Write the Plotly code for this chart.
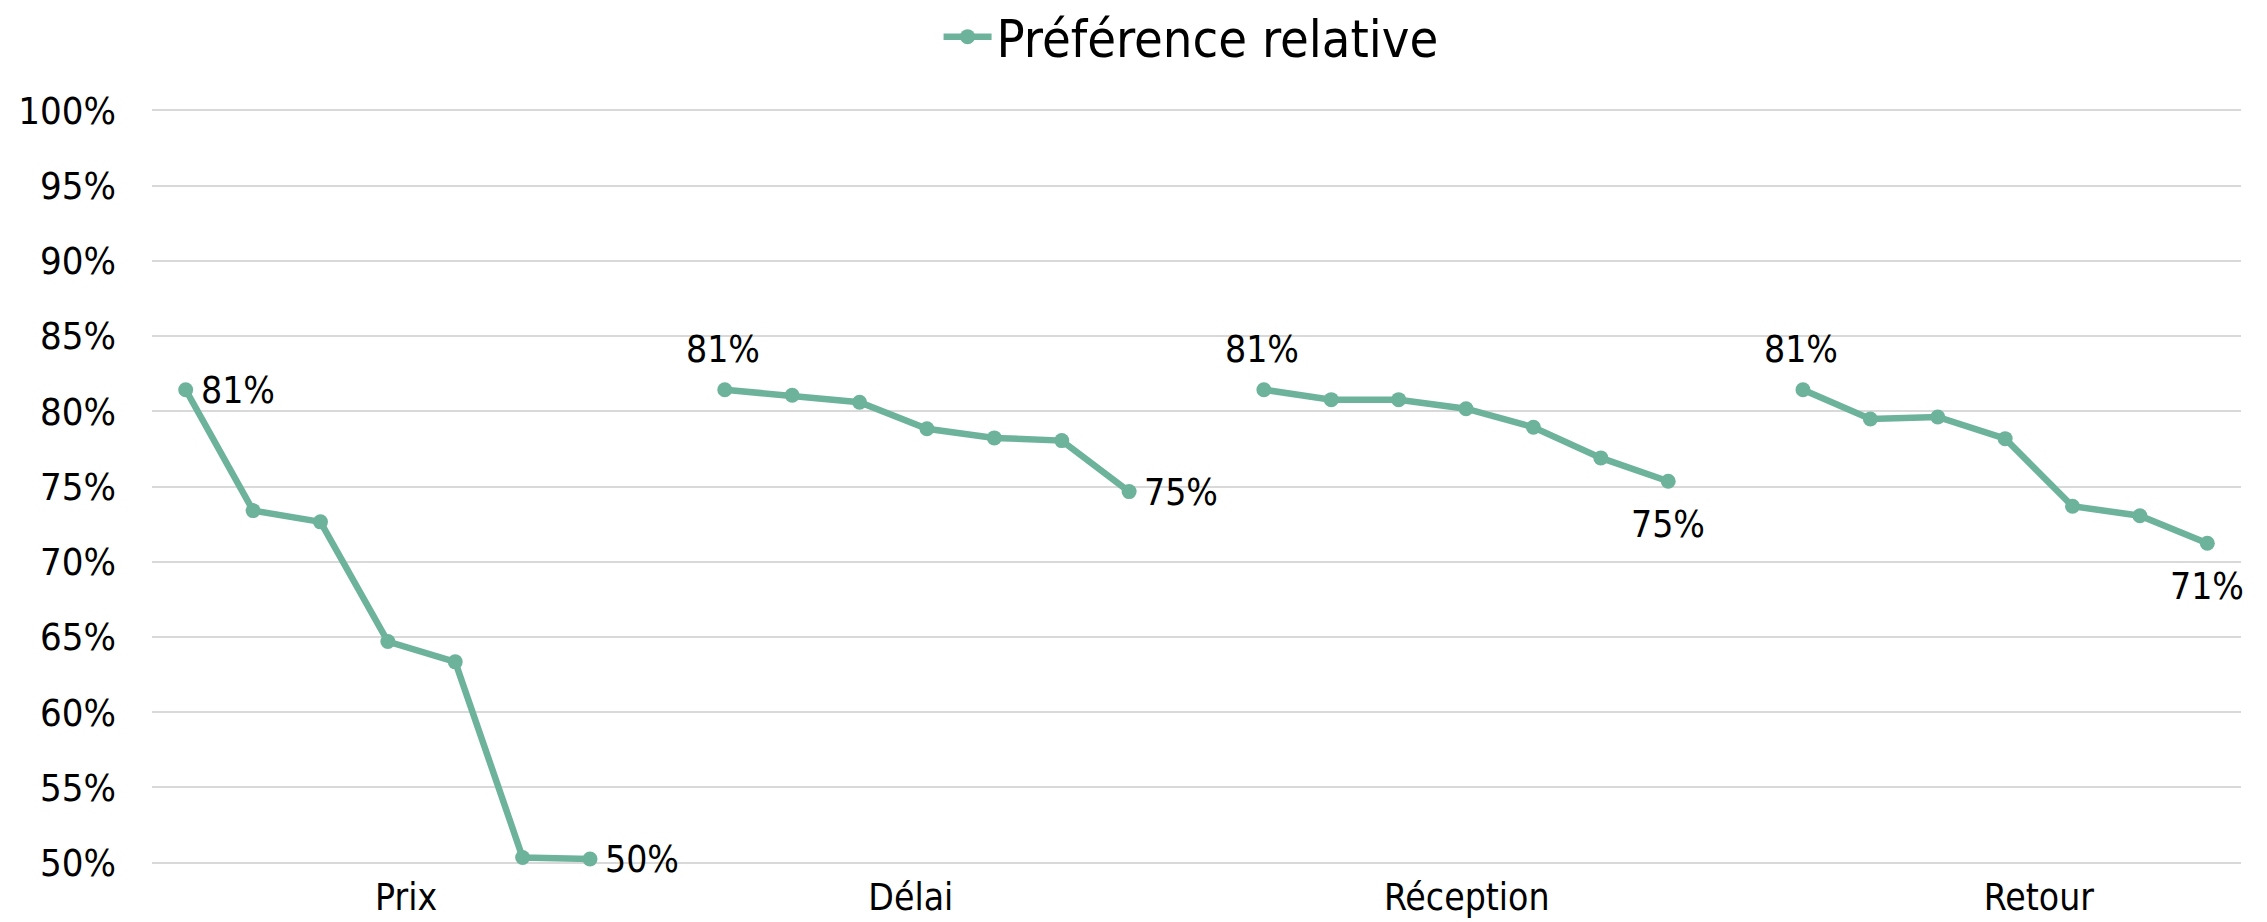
import plotly.graph_objects as go

# ---- data ----
groups = ["Prix", "Délai", "Réception", "Retour"]
prix = [81.43, 73.4, 72.65, 64.7, 63.35, 50.35, 50.25]
delai = [81.43, 81.06, 80.6, 78.84, 78.23, 78.05, 74.66]
reception = [81.43, 80.77, 80.77, 80.17, 78.94, 76.9, 75.35]
retour = [81.43, 79.49, 79.62, 78.18, 73.69, 73.06, 71.23]
series_name = "Préférence relative"
y_ticks = [50, 55, 60, 65, 70, 75, 80, 85, 90, 95, 100]

# ---- style / layout ----
group_values = [prix, delai, reception, retour]
group_stride = 8  # 7 points + 1 empty slot between groups
group_label_pos = [3.27, 10.76, 19.01, 27.5]
first_label_side = ["right", "top", "top", "top"]
last_label_side = ["right", "right", "bottom", "bottom"]
color = "#6DB39B"
font_family = "DejaVu Sans Condensed, DejaVu Sans, sans-serif"
label_font = dict(size=37, color="#000000", family=font_family)

side_style = {
    "right": dict(xanchor="left", yanchor="middle", xshift=13, yshift=-1),
    "top": dict(xanchor="center", yanchor="middle", xshift=-2, yshift=40),
    "bottom": dict(xanchor="center", yanchor="middle", xshift=0, yshift=-43),
}

fig = go.Figure()
annotations = []
for g, vals in enumerate(group_values):
    n = len(vals)
    xs = [g * group_stride + i for i in range(n)]
    ys = [v / 100 for v in vals]
    fig.add_trace(go.Scatter(
        x=xs, y=ys, mode="lines+markers",
        name=series_name, legendgroup="s", showlegend=(g == 0),
        line=dict(color=color, width=6.5),
        marker=dict(color=color, size=15),
        hoverinfo="skip", cliponaxis=False,
    ))
    for idx, side in ((0, first_label_side[g]), (n - 1, last_label_side[g])):
        annotations.append(dict(
            x=xs[idx], y=ys[idx], xref="x", yref="y",
            text=f"{ys[idx]:.0%}", showarrow=False, font=label_font,
            **side_style[side],
        ))

n_slots = group_stride * (len(groups) - 1) + len(retour)
eps = 0.0015
fig.update_layout(
    width=2267, height=922,
    margin=dict(l=144, r=34, t=100, b=65, autoexpand=False),
    paper_bgcolor="white", plot_bgcolor="white",
    font=dict(family=font_family, size=37, color="#000000"),
    showlegend=True,
    annotations=annotations,
    legend=dict(orientation="h", x=0.4974, xanchor="center", y=1.094, yanchor="middle",
                font=dict(size=52, color="#000000"), itemwidth=48,
                bgcolor="rgba(0,0,0,0)"),
    xaxis=dict(range=[-0.5, n_slots - 0.5], tickmode="array",
               tickvals=group_label_pos, ticktext=groups,
               showgrid=False, zeroline=False, showline=False, ticks="",
               automargin=False, ticklabelstandoff=7, tickfont=dict(size=37)),
    yaxis=dict(range=[0.5 - eps, 1.0 + eps], tickmode="array",
               tickvals=[t / 100 for t in y_ticks],
               ticktext=[f"{t}%" for t in y_ticks],
               showgrid=True, gridcolor="#D9D9D9", gridwidth=2,
               zeroline=False, showline=False, ticks="",
               automargin=False,
               ticklabelstandoff=35, tickfont=dict(size=38)),
)
fig.write_html("out.html")
